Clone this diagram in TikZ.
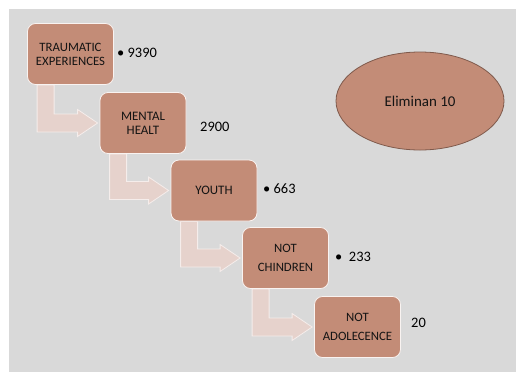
\documentclass[tikz,border=0pt]{standalone}
\usepackage{fontspec}
\setmainfont{Carlito}
\usetikzlibrary{shapes.geometric,calc}
\pgfdeclarelayer{back}
\pgfdeclarelayer{mid}
\pgfsetlayers{back,mid,main}
\definecolor{bgray}{HTML}{D9D9D9}
\definecolor{boxbrown}{HTML}{C38C77}
\definecolor{arrowpink}{HTML}{E6D2CC}
\definecolor{ellborder}{HTML}{7F5A4C}
\definecolor{txt}{HTML}{141414}
\tikzset{
  stepbox/.style={rectangle, rounded corners=8bp, fill=boxbrown, draw=white!90!boxbrown, line width=0.8bp,
    minimum width=86bp, minimum height=61bp, align=center, text=txt, inner sep=2bp},
  boxfont/.style={font=\fontsize{13}{14}\selectfont},
  countlabel/.style={anchor=west, text=black, font=\fontsize{14.5}{16}\selectfont, inner sep=0pt},
  arrowshape/.style={fill=arrowpink, draw=white!60!arrowpink, line width=0.8bp, line join=miter}
}
\newcommand\bentarrow[2]{%
  \path[arrowshape] let \p1=(#1.south west), \p2=(#2.west) in
    (\x1+10bp,\y1) -- (\x1+27bp,\y1) -- (\x1+27bp,\y2+9bp) -- (\x2-22bp,\y2+9bp)
    -- (\x2-22bp,\y2+13.5bp) -- (\x2-2bp,\y2) -- (\x2-22bp,\y2-13.5bp)
    -- (\x2-22bp,\y2-9bp) -- (\x1+10bp,\y2-9bp) -- cycle;}
\begin{document}
\begin{tikzpicture}[x=1bp,y=-1bp]
\useasboundingbox (0,0) rectangle (516,372);
\begin{pgfonlayer}{back}
\fill[white] (0,0) rectangle (516,372);
\fill[bgray] (9,9) rectangle (516,372);
\end{pgfonlayer}

\node[stepbox, font=\fontsize{12.8}{14}\selectfont] (b1) at (70.5,54) {TRAUMATIC\\EXPERIENCES};
\node[stepbox, boxfont] (b2) at (143,123) {MENTAL\\HEALT};
\node[stepbox, boxfont] (b3) at (214,190.5) {YOUTH};
\node[stepbox, font=\fontsize{12.8}{19}\selectfont] (b4) at (285.5,258) {NOT\\CHINDREN};
\node[stepbox, font=\fontsize{12.8}{19}\selectfont] (b5) at (357.5,327) {NOT\\ADOLECENCE};

\begin{pgfonlayer}{mid}
\bentarrow{b1}{b2}
\bentarrow{b2}{b3}
\bentarrow{b3}{b4}
\bentarrow{b4}{b5}
\end{pgfonlayer}

\node[ellipse, fill=boxbrown, draw=ellborder, line width=0.8bp, minimum width=168bp, minimum height=98bp,
  text=txt, font=\fontsize{15}{17}\selectfont] (elim) at (420,101) {Eliminan 10};

\node[countlabel] (c1) at (117,53) {\textbullet\ 9390};
\node[countlabel] (c2) at (200,127) {2900};
\node[countlabel] (c3) at (263,189) {\textbullet\ 663};
\node[countlabel] (c4) at (335,257) {\textbullet\ \ 233};
\node[countlabel] (c5) at (411,323) {20};
\end{tikzpicture}
\end{document}
